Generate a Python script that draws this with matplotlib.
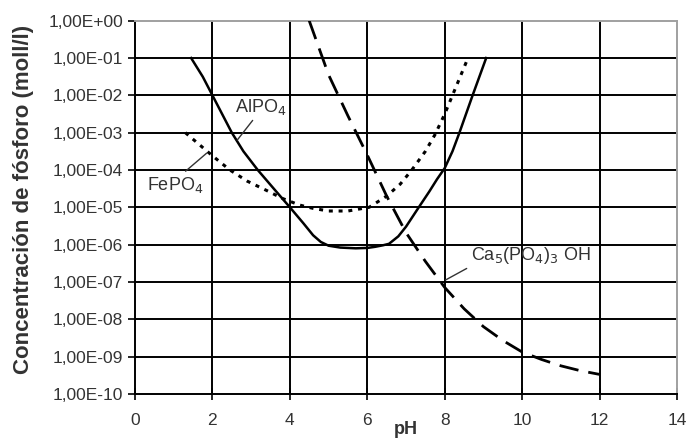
import matplotlib
matplotlib.use("Agg")
import matplotlib.pyplot as plt

plt.rcParams['font.family'] = ['Liberation Sans', 'DejaVu Sans']

# pH values and log10 of concentration
al_ph = [1.45, 1.75, 2.0, 2.25, 2.5, 2.8, 3.17, 3.6, 4.0, 4.35, 4.6, 4.8, 5.0, 5.3, 5.7, 6.0, 6.2, 6.4, 6.56,
         6.8, 7.0, 7.33, 7.6, 7.8, 8.0, 8.2, 8.38, 8.72, 9.07]
al_log = [-1.0, -1.5, -2.0, -2.5, -3.0, -3.5, -4.0, -4.52, -5.0, -5.43, -5.75, -5.93, -6.03, -6.08, -6.1, -6.09,
          -6.06, -6.02, -5.98, -5.78, -5.52, -5.0, -4.58, -4.25, -3.95, -3.5, -3.0, -2.0, -1.0]

fe_ph = [1.3, 2.0, 2.45, 2.9, 3.4, 3.8, 4.25, 4.6, 5.0, 5.5, 6.05, 6.5, 6.85, 7.15, 7.5, 7.75, 8.0, 8.2, 8.4, 8.6]
fe_log = [-3.0, -3.62, -4.0, -4.3, -4.55, -4.76, -4.94, -5.03, -5.1, -5.1, -5.0, -4.7, -4.38, -4.0, -3.5, -3.05,
          -2.5, -2.0, -1.5, -1.0]

ca_ph = [4.5, 5.0, 5.5, 6.0, 6.5, 7.0, 7.5, 8.0, 8.5, 9.0, 9.5, 10.0, 10.5, 11.0, 11.5, 12.0]
ca_log = [0.0, -1.45, -2.55, -3.6, -4.7, -5.68, -6.45, -7.15, -7.72, -8.2, -8.57, -8.88, -9.08, -9.25, -9.38, -9.48]

y_ticks = [1e-10, 1e-9, 1e-8, 1e-7, 1e-6, 1e-5, 1e-4, 1e-3, 1e-2, 1e-1, 1e0]
y_labels = ["1,00E-10", "1,00E-09", "1,00E-08", "1,00E-07", "1,00E-06", "1,00E-05",
            "1,00E-04", "1,00E-03", "1,00E-02", "1,00E-01", "1,00E+00"]
x_ticks = [0, 2, 4, 6, 8, 10, 12, 14]

fig = plt.figure(figsize=(6.87, 4.41), dpi=100)
ax = fig.add_axes([0.1965, 0.107, 0.789, 0.846])

ax.set_yscale('log')
ax.set_xlim(0, 14)
ax.set_ylim(1e-10, 1e0)

for t in y_ticks[1:-1]:
    ax.axhline(t, color='black', lw=1.4, zorder=1)
for t in x_ticks[1:-1]:
    ax.axvline(t, color='black', lw=1.4, zorder=1)

ax.plot(al_ph, [10 ** v for v in al_log], color='black', lw=1.8, zorder=3)
ax.plot(fe_ph, [10 ** v for v in fe_log], color='black', lw=2.2, dashes=(1.3, 1.9), zorder=3)
ax.plot(ca_ph, [10 ** v for v in ca_log], color='black', lw=2.0, dashes=(7, 3.6), zorder=3)

ax.set_yticks(y_ticks)
ax.set_yticklabels(y_labels)
ax.minorticks_off()
ax.set_xticks(x_ticks)
ax.tick_params(axis='y', direction='out', length=5, width=1.2, labelsize=12.5, colors='black')
ax.tick_params(axis='x', direction='inout', length=9, width=1.2, labelsize=12.5, pad=9)
for lab in ax.get_yticklabels() + ax.get_xticklabels():
    lab.set_color('#333333')

for s in ['top', 'right']:
    ax.spines[s].set_color('#a0a0a0')
    ax.spines[s].set_linewidth(1.4)
for s in ['left', 'bottom']:
    ax.spines[s].set_color('black')
    ax.spines[s].set_linewidth(1.4)

ax.set_xlabel('pH', fontsize=13, fontweight='bold', color='#333333', labelpad=-5)
ax.set_ylabel('Concentración de fósforo (moll/l)', fontsize=16, fontweight='bold',
              color='#333333', labelpad=5)
ax.yaxis.set_label_coords(-0.187, 0.52)

ax.annotate('AlPO$_4$', xy=(2.64, 10 ** -3.2), xytext=(3.25, 10 ** -2.3),
            fontsize=13, color='#333333', ha='center', va='center',
            arrowprops=dict(arrowstyle='-', color='#333333', lw=1, shrinkA=1, shrinkB=0,
                            relpos=(0.4, 0.0)))
ax.annotate('FePO$_4$', xy=(1.85, 10 ** -3.55), xytext=(1.05, 10 ** -4.4),
            fontsize=13, color='#333333', ha='center', va='center',
            arrowprops=dict(arrowstyle='-', color='#333333', lw=1, shrinkA=1, shrinkB=0,
                            relpos=(0.6, 1.0)))
ax.annotate('Ca$_5$(PO$_4$)$_3$ OH', xy=(8.02, 10 ** -6.95), xytext=(8.67, 10 ** -6.3),
            fontsize=13, color='#333333', ha='left', va='center',
            arrowprops=dict(arrowstyle='-', color='#333333', lw=1, shrinkA=1, shrinkB=0,
                            relpos=(0.0, 0.0)))

fig.savefig('out.png', dpi=100)
